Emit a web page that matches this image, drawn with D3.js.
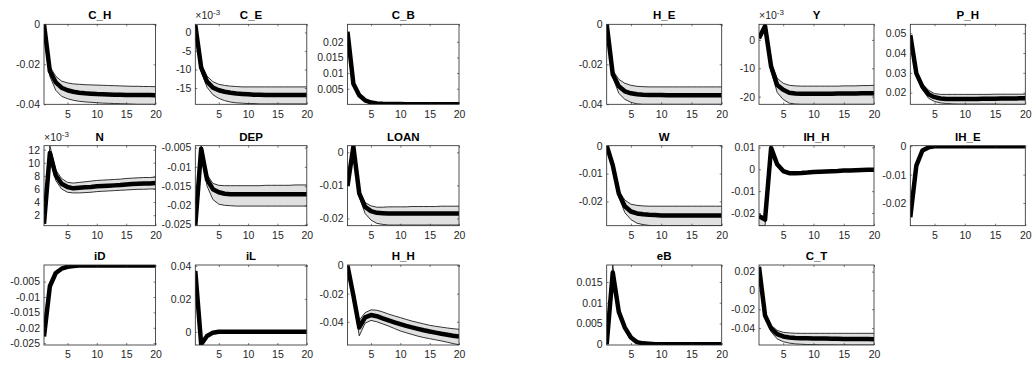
<!DOCTYPE html>
<html><head><meta charset="utf-8">
<script src="https://cdn.jsdelivr.net/npm/d3@7"></script>
<style>
html,body{margin:0;padding:0;background:#fff;}
svg{display:block;font-family:"Liberation Sans",Arial,Helvetica,sans-serif;}
</style></head>
<body><svg id="c" width="1034" height="369"></svg>
<script>
const periods = d3.range(1, 21);
const xTicks = [5, 10, 15, 20];

// ---- data ----
const C_H_mean  = [0,-0.0235,-0.029,-0.0317,-0.033,-0.0337,-0.0342,-0.0345,-0.0347,-0.0349,-0.035,-0.0351,-0.0352,-0.0352,-0.0353,-0.0353,-0.0354,-0.0354,-0.0354,-0.0355];
const C_H_upper = [0,-0.021,-0.026,-0.0284,-0.0293,-0.0298,-0.03,-0.0302,-0.0303,-0.0304,-0.0305,-0.0306,-0.0307,-0.0308,-0.0309,-0.031,-0.031,-0.0311,-0.0311,-0.0312];
const C_H_lower = [0,-0.026,-0.033,-0.036,-0.0372,-0.038,-0.0385,-0.0388,-0.039,-0.0392,-0.0394,-0.0395,-0.0396,-0.0397,-0.0398,-0.0399,-0.04,-0.04,-0.04,-0.04];

const C_E_mean  = [2.0,-9.5,-13.3,-14.9,-15.6,-16.0,-16.3,-16.5,-16.6,-16.7,-16.8,-16.8,-16.9,-16.9,-16.9,-16.9,-16.9,-16.9,-16.9,-16.9];
const C_E_upper = [2.0,-8.5,-11.8,-13.3,-14.0,-14.3,-14.5,-14.6,-14.7,-14.7,-14.7,-14.7,-14.7,-14.7,-14.7,-14.7,-14.7,-14.7,-14.7,-14.7];
const C_E_lower = [2.0,-10.5,-14.8,-16.8,-17.8,-18.4,-18.8,-19.0,-19.1,-19.2,-19.2,-19.3,-19.3,-19.3,-19.3,-19.3,-19.3,-19.3,-19.3,-19.3];

const C_B_mean  = [0.0232,0.0066,0.0029,0.0013,0.0006,0.0003,0.00018,0.00012,0.0001,0.00008,0.00007,0.00006,0.00006,0.00006,0.00006,0.00006,0.00006,0.00006,0.00006,0.00006];

const N_mean  = [0.7,11.5,8.1,6.8,6.3,6.1,6.2,6.25,6.3,6.4,6.45,6.5,6.55,6.6,6.7,6.75,6.8,6.85,6.85,6.9];
const N_upper = [0.7,12.6,8.9,7.6,7.0,6.9,7.0,7.1,7.2,7.3,7.35,7.4,7.45,7.5,7.6,7.65,7.7,7.75,7.75,7.8];
const N_lower = [0.7,10.5,7.3,6.0,5.5,5.4,5.4,5.45,5.5,5.6,5.65,5.7,5.75,5.8,5.85,5.9,5.95,5.95,6.0,6.0];

const DEP_mean  = [-0.0252,-0.0053,-0.0133,-0.0158,-0.0166,-0.017,-0.0171,-0.0171,-0.0171,-0.0171,-0.0171,-0.0171,-0.0171,-0.0171,-0.0171,-0.0171,-0.0171,-0.0171,-0.0171,-0.0171];
const DEP_upper = [-0.0252,-0.0045,-0.012,-0.0143,-0.0148,-0.0149,-0.0149,-0.0149,-0.0149,-0.0149,-0.0149,-0.0149,-0.0148,-0.0148,-0.0148,-0.0148,-0.0148,-0.0147,-0.0147,-0.0147];
const DEP_lower = [-0.0252,-0.006,-0.015,-0.0185,-0.0197,-0.02,-0.0201,-0.0202,-0.0202,-0.0202,-0.0202,-0.0202,-0.0202,-0.0202,-0.0202,-0.0202,-0.0202,-0.0202,-0.0202,-0.0202];

const LOAN_mean  = [-0.0102,0.0017,-0.0124,-0.0165,-0.0178,-0.0183,-0.0184,-0.0185,-0.0185,-0.0185,-0.0185,-0.0185,-0.0185,-0.0185,-0.0185,-0.0185,-0.0185,-0.0185,-0.0185,-0.0185];
const LOAN_upper = [-0.0102,0.002,-0.0115,-0.0152,-0.0162,-0.0166,-0.0166,-0.0165,-0.0165,-0.0165,-0.0165,-0.0164,-0.0164,-0.0164,-0.0164,-0.0164,-0.0163,-0.0163,-0.0163,-0.0163];
const LOAN_lower = [-0.0102,0.0013,-0.0135,-0.0185,-0.0205,-0.0215,-0.0218,-0.022,-0.022,-0.022,-0.022,-0.022,-0.022,-0.022,-0.022,-0.022,-0.022,-0.022,-0.022,-0.022];

const iD_mean = [-0.0228,-0.0065,-0.0022,-0.0008,-0.0002,0.0001,0.0002,0.0002,0.0002,0.0002,0.0002,0.0002,0.0002,0.0002,0.0002,0.0002,0.0002,0.0002,0.0002,0.0002];

const iL_mean = [0.037,-0.0075,-0.0025,-0.0005,0,0.0001,0.0001,0,0,0,0,0,0,0,0,0,0,0,0,0];

const H_H_mean  = [0,-0.0212,-0.044,-0.0369,-0.0352,-0.036,-0.0376,-0.039,-0.0404,-0.0417,-0.0429,-0.044,-0.045,-0.046,-0.0469,-0.0477,-0.0485,-0.0492,-0.0499,-0.0505];
const H_H_upper = [0,-0.02,-0.039,-0.0335,-0.0315,-0.0318,-0.033,-0.0345,-0.0358,-0.037,-0.0383,-0.0395,-0.0405,-0.0415,-0.0425,-0.0432,-0.0438,-0.0444,-0.0449,-0.0453];
const H_H_lower = [0,-0.0225,-0.05,-0.041,-0.039,-0.04,-0.0415,-0.043,-0.0448,-0.0465,-0.0478,-0.049,-0.0502,-0.0512,-0.052,-0.0528,-0.0536,-0.0545,-0.0555,-0.0563];

const H_E_mean  = [0,-0.025,-0.031,-0.0335,-0.0345,-0.035,-0.0352,-0.0353,-0.0354,-0.0354,-0.0355,-0.0355,-0.0355,-0.0355,-0.0355,-0.0355,-0.0355,-0.0355,-0.0355,-0.0355];
const H_E_upper = [0,-0.023,-0.0275,-0.0295,-0.0305,-0.031,-0.0312,-0.0313,-0.0313,-0.0313,-0.0313,-0.0313,-0.0313,-0.0313,-0.0313,-0.0313,-0.0313,-0.0313,-0.0313,-0.0313];
const H_E_lower = [0,-0.0265,-0.0345,-0.0375,-0.039,-0.0398,-0.04,-0.04,-0.04,-0.04,-0.04,-0.04,-0.04,-0.04,-0.04,-0.04,-0.04,-0.04,-0.04,-0.04];

const Y_mean  = [0.6,4.9,-9.4,-15.9,-17.6,-18.6,-18.9,-19.0,-19.0,-19.0,-19.0,-19.0,-19.0,-18.9,-18.9,-18.9,-18.9,-18.8,-18.8,-18.8];
const Y_upper = [0.6,5.5,-8.0,-13.5,-15.3,-16.0,-16.2,-16.3,-16.3,-16.3,-16.3,-16.3,-16.3,-16.3,-16.2,-16.2,-16.2,-16.1,-16.1,-16.0];
const Y_lower = [0.6,4.3,-11.0,-18.5,-21.0,-22.3,-22.6,-22.7,-22.7,-22.7,-22.7,-22.7,-22.7,-22.7,-22.7,-22.7,-22.7,-22.7,-22.7,-22.7];

const P_H_mean  = [0.049,0.0297,0.023,0.0192,0.0177,0.017,0.0168,0.0168,0.0168,0.0168,0.0168,0.0168,0.0169,0.0169,0.0169,0.017,0.017,0.017,0.0171,0.0171];
const P_H_upper = [0.049,0.031,0.0245,0.0212,0.0195,0.0191,0.0191,0.0191,0.0191,0.0191,0.0191,0.0191,0.0191,0.0191,0.0192,0.0192,0.0192,0.0192,0.0192,0.0192];
const P_H_lower = [0.049,0.0285,0.0215,0.0172,0.0155,0.0148,0.0145,0.0143,0.0142,0.0142,0.0142,0.0142,0.0142,0.0142,0.0142,0.0141,0.0141,0.0141,0.0141,0.0141];

const W_mean  = [0,-0.007,-0.0172,-0.0217,-0.0236,-0.0243,-0.0246,-0.0248,-0.0249,-0.025,-0.025,-0.025,-0.025,-0.025,-0.025,-0.025,-0.025,-0.025,-0.025,-0.025];
const W_upper = [0,-0.0068,-0.0162,-0.0195,-0.021,-0.0214,-0.0216,-0.0217,-0.0217,-0.0217,-0.0217,-0.0217,-0.0217,-0.0217,-0.0217,-0.0217,-0.0217,-0.0217,-0.0217,-0.0217];
const W_lower = [0,-0.0072,-0.0185,-0.024,-0.0265,-0.0278,-0.0283,-0.0286,-0.0287,-0.0287,-0.0287,-0.0287,-0.0287,-0.0287,-0.0287,-0.0287,-0.0287,-0.0287,-0.0287,-0.0287];

const IH_H_mean  = [-0.0214,-0.023,0.0098,0.0023,-0.0008,-0.0018,-0.0018,-0.0017,-0.0015,-0.0012,-0.0011,-0.001,-0.0009,-0.0008,-0.0006,-0.0005,-0.0004,-0.0003,-0.0002,-0.0002];
const IH_H_upper = [-0.0205,-0.0222,0.0108,0.0026,-0.0006,-0.0016,-0.0016,-0.0015,-0.0013,-0.001,-0.0009,-0.0008,-0.0007,-0.0006,-0.0004,-0.0003,-0.0002,-0.0001,0,0];
const IH_H_lower = [-0.0258,-0.0258,0.009,0.002,-0.001,-0.002,-0.002,-0.0019,-0.0017,-0.0014,-0.0013,-0.0012,-0.0011,-0.001,-0.0008,-0.0007,-0.0006,-0.0005,-0.0004,-0.0004];

const IH_E_mean = [-0.025,-0.0068,-0.0015,-0.0004,0,0,0,0,0,0,0,0,0,0,0,0,0,0,0,0];

const eB_mean  = [0,0.0173,0.0078,0.004,0.0016,0.0005,0.0002,0.0001,0,0,0,0,0,0,0,0,0,0,0,0];
const eB_upper = [0,0.0191,0.0085,0.0044,0.0018,0.0006,0.0002,0.0001,0,0,0,0,0,0,0,0,0,0,0,0];
const eB_lower = [0,0.0158,0.0071,0.0036,0.0014,0.0004,0.0002,0.0001,0,0,0,0,0,0,0,0,0,0,0,0];

const C_T_mean  = [0.025,-0.0267,-0.0403,-0.0464,-0.0489,-0.05,-0.0505,-0.0508,-0.0509,-0.051,-0.0511,-0.0512,-0.0513,-0.0514,-0.0515,-0.0516,-0.0516,-0.0517,-0.0517,-0.0518];
const C_T_upper = [0.025,-0.025,-0.037,-0.0425,-0.0445,-0.0452,-0.0455,-0.0456,-0.0456,-0.0456,-0.0456,-0.0456,-0.0456,-0.0456,-0.0456,-0.0456,-0.0456,-0.0456,-0.0456,-0.0456];
const C_T_lower = [0.025,-0.028,-0.044,-0.0515,-0.0545,-0.056,-0.0568,-0.0572,-0.0575,-0.0577,-0.0578,-0.0579,-0.0579,-0.058,-0.058,-0.058,-0.058,-0.058,-0.058,-0.058];

// ---- tick labels (y) ----
const C_H_ticks = [0,-0.02,-0.04];
const C_E_ticks = [0,-5,-10,-15];
const C_B_ticks = [0.005,0.01,0.015,0.02];
const N_ticks = [2,4,6,8,10,12];
const DEP_ticks = [-0.005,-0.01,-0.015,-0.02,-0.025];
const LOAN_ticks = [0,-0.01,-0.02];
const iD_ticks = [-0.005,-0.01,-0.015,-0.02,-0.025];
const iL_ticks = [0,0.02,0.04];
const H_H_ticks = [0,-0.02,-0.04];
const H_E_ticks = [0,-0.02,-0.04];
const Y_ticks = [0,-10,-20];
const P_H_ticks = [0.02,0.03,0.04,0.05];
const W_ticks = [0,-0.01,-0.02];
const IH_H_ticks = [0.01,0,-0.01,-0.02];
const IH_E_ticks = [0,-0.01,-0.02];
const eB_ticks = [0,0.005,0.01,0.015];
const C_T_ticks = [0.02,0,-0.02,-0.04];

// ---- panel table built from the arrays ----
const panels = [
  {name:"C_H", block:0,row:0,col:0, dom:[-0.04,0], ticks:C_H_ticks, mean:C_H_mean, up:C_H_upper, lo:C_H_lower},
  {name:"C_E", block:0,row:0,col:1, dom:[-19.4,2.2], ticks:C_E_ticks, mean:C_E_mean, up:C_E_upper, lo:C_E_lower, exp:"-3"},
  {name:"C_B", block:0,row:0,col:2, dom:[0.00002,0.0256], ticks:C_B_ticks, mean:C_B_mean},
  {name:"N", block:0,row:1,col:0, dom:[0.4,12.6], ticks:N_ticks, mean:N_mean, up:N_upper, lo:N_lower, exp:"-3"},
  {name:"DEP", block:0,row:1,col:1, dom:[-0.0253,-0.0045], ticks:DEP_ticks, mean:DEP_mean, up:DEP_upper, lo:DEP_lower},
  {name:"LOAN", block:0,row:1,col:2, dom:[-0.0222,0.002], ticks:LOAN_ticks, mean:LOAN_mean, up:LOAN_upper, lo:LOAN_lower},
  {name:"iD", block:0,row:2,col:0, dom:[-0.0256,0.0004], ticks:iD_ticks, mean:iD_mean},
  {name:"iL", block:0,row:2,col:1, dom:[-0.008,0.0406], ticks:iL_ticks, mean:iL_mean},
  {name:"H_H", block:0,row:2,col:2, dom:[-0.0565,0.0004], ticks:H_H_ticks, mean:H_H_mean, up:H_H_upper, lo:H_H_lower},
  {name:"H_E", block:1,row:0,col:0, dom:[-0.04,0], ticks:H_E_ticks, mean:H_E_mean, up:H_E_upper, lo:H_E_lower},
  {name:"Y", block:1,row:0,col:1, dom:[-22.7,5.5], ticks:Y_ticks, mean:Y_mean, up:Y_upper, lo:Y_lower, exp:"-3"},
  {name:"P_H", block:1,row:0,col:2, dom:[0.0141,0.0545], ticks:P_H_ticks, mean:P_H_mean, up:P_H_upper, lo:P_H_lower},
  {name:"W", block:1,row:1,col:0, dom:[-0.0287,0], ticks:W_ticks, mean:W_mean, up:W_upper, lo:W_lower},
  {name:"IH_H", block:1,row:1,col:1, dom:[-0.0258,0.0108], ticks:IH_H_ticks, mean:IH_H_mean, up:IH_H_upper, lo:IH_H_lower},
  {name:"IH_E", block:1,row:1,col:2, dom:[-0.028,0.0002], ticks:IH_E_ticks, mean:IH_E_mean},
  {name:"eB", block:1,row:2,col:0, dom:[-0.0002,0.0191], ticks:eB_ticks, mean:eB_mean, up:eB_upper, lo:eB_lower},
  {name:"C_T", block:1,row:2,col:1, dom:[-0.058,0.027], ticks:C_T_ticks, mean:C_T_mean, up:C_T_upper, lo:C_T_lower}
];

// ---- layout ----
const rowTop = [24.3, 145.7, 265];
const rowH = 80;
const colX = [[44, 195.3, 347.5], [606.7, 759, 910.3]];
const colW = [111.5, 115];

const svg = d3.select("#c");
const defs = svg.append("defs");
const txtColor = "#262626";
const fmt = v => {
  if (v === 0) return "0";
  return String(+v.toPrecision(6));
};

panels.forEach((p, i) => {
  const x0 = colX[p.block][p.col], y0 = rowTop[p.row];
  const w = colW[p.block], h = rowH;
  const x = d3.scaleLinear().domain([1, 20]).range([0, w]);
  const y = d3.scaleLinear().domain(p.dom).range([h, 0]);
  const g = svg.append("g").attr("transform", `translate(${x0},${y0})`);

  defs.append("clipPath").attr("id", "clip" + i)
    .append("rect").attr("x", 0).attr("y", 0).attr("width", w).attr("height", h);
  const plot = g.append("g").attr("clip-path", `url(#clip${i})`);

  if (p.up) {
    const band = periods.map((t, k) => ({t, u: p.up[k], l: p.lo[k]}));
    plot.append("path").datum(band)
      .attr("fill", "#e0e0e0")
      .attr("d", d3.area().x(d => x(d.t)).y0(d => y(d.l)).y1(d => y(d.u)));
    [p.up, p.lo].forEach(arr => {
      plot.append("path").datum(arr)
        .attr("fill", "none").attr("stroke", "#1e1e1e").attr("stroke-width", 0.9)
        .attr("d", d3.line().x((d, k) => x(periods[k])).y(d => y(d)));
    });
  }
  plot.append("path").datum(p.mean)
    .attr("fill", "none").attr("stroke", "#000").attr("stroke-width", 4.5)
    .attr("stroke-linejoin", "round")
    .attr("d", d3.line().x((d, k) => x(periods[k])).y(d => y(d)));

  // axes
  const ax = (gen) => gen.tickSizeInner(-2).tickSizeOuter(0).tickPadding(4);
  const gl = g.append("g").call(ax(d3.axisLeft(y).tickValues(p.ticks).tickFormat(fmt)));
  const gb = g.append("g").attr("transform", `translate(0,${h})`)
    .call(ax(d3.axisBottom(x).tickValues(xTicks).tickFormat(d3.format("d"))).tickPadding(6));
  const gr = g.append("g").attr("transform", `translate(${w},0)`)
    .call(d3.axisRight(y).tickValues(p.ticks).tickSizeInner(-2).tickSizeOuter(0).tickFormat(""));
  const gt = g.append("g")
    .call(d3.axisTop(x).tickValues(xTicks).tickSizeInner(-2).tickSizeOuter(0).tickFormat(""));
  [gl, gb, gr, gt].forEach(a => {
    a.select(".domain").remove();
    a.selectAll("line").attr("stroke", txtColor).attr("stroke-width", 0.6);
    a.selectAll("text").attr("fill", txtColor)
      .style("font-family", '"Liberation Sans",Arial,Helvetica,sans-serif')
      .style("font-size", "10.5px");
  });

  g.append("rect").attr("width", w).attr("height", h)
    .attr("fill", "none").attr("stroke", txtColor).attr("stroke-width", 0.8);

  g.append("text").attr("x", w / 2).attr("y", -5)
    .attr("text-anchor", "middle").attr("font-weight", "bold")
    .attr("font-size", "11.5px").attr("fill", "#000").text(p.name);

  if (p.exp) {
    const t = g.append("text").attr("x", 0).attr("y", -5)
      .attr("font-size", "10.5px").attr("fill", txtColor);
    t.append("tspan").text("\u00d710");
    t.append("tspan").attr("dy", -4).attr("font-size", "8px").text(p.exp);
  }
});
</script>
</body></html>
